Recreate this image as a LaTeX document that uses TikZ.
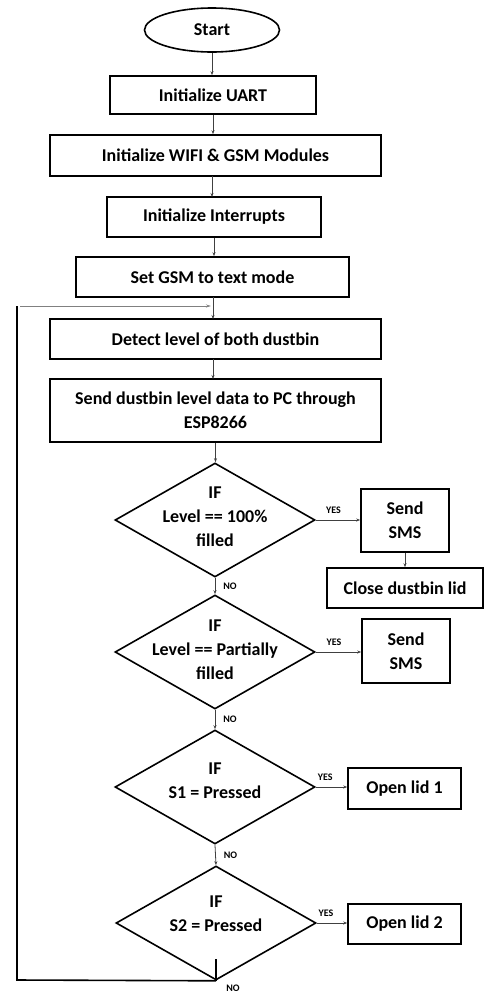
\documentclass[tikz,border=0pt]{standalone}
\usepackage{fontspec}
\setmainfont{Carlito}
\usetikzlibrary{shapes.geometric,arrows.meta}
\begin{document}
\begin{tikzpicture}[x=1pt,y=-1pt,
  box/.style={draw, line width=1.6pt, rectangle, inner sep=0pt, align=center, font=\fontsize{18}{24}\selectfont\bfseries},
  term/.style={draw, line width=1.6pt, ellipse, inner sep=0pt, minimum width=135pt, minimum height=44pt, font=\fontsize{18}{24}\selectfont\bfseries},
  dec/.style={draw, line width=1.6pt, diamond, inner sep=0pt, minimum width=200pt, minimum height=114pt},
  dtext/.style={align=center, inner sep=0pt, font=\fontsize{18}{24}\selectfont\bfseries},
  conn/.style={line width=0.8pt, draw=black!75, -{Stealth[length=4pt,width=3pt]}},
  loopline/.style={line width=1.6pt, line join=miter},
  lbl/.style={inner sep=0pt, font=\fontsize{10}{12}\selectfont\bfseries}]
\useasboundingbox (0,0) rectangle (484,994);

\node[term] (start) at (212,30) {Start};
\node[box, minimum width=206pt, minimum height=38pt] (uart) at (213,95) {Initialize UART};
\node[box, minimum width=331pt, minimum height=41pt] (wifi) at (215.5,155.5) {Initialize WIFI \& GSM Modules};
\node[box, minimum width=214pt, minimum height=40pt] (intr) at (214,217) {Initialize Interrupts};
\node[box, minimum width=273pt, minimum height=40pt] (gsm) at (212.5,277) {Set GSM to text mode};
\node[box, minimum width=331pt, minimum height=40pt] (detect) at (215.5,339) {Detect level of both dustbin};
\node[box, minimum width=331pt, minimum height=63pt] (send) at (215.5,410.5) {Send dustbin level data to PC through\\ESP8266};

\node[dec] (d1) at (215,520) {};
\node[dtext] (t1) at (215,517) {IF\\Level == 100\%\\filled};
\node[box, minimum width=88pt, minimum height=63pt] (sms1) at (405,520.5) {Send\\SMS};
\node[box, minimum width=156pt, minimum height=40pt] (close) at (405,588) {Close dustbin lid};

\node[dec] (d2) at (215,652) {};
\node[dtext] (t2) at (215,650) {IF\\Level == Partially\\filled};
\node[box, minimum width=88pt, minimum height=64pt] (sms2) at (406,651) {Send\\SMS};

\node[dec] (d3) at (215,787) {};
\node[dtext] (t3) at (215,781) {IF\\S1 = Pressed};
\node[box, minimum width=113pt, minimum height=41pt] (lid1) at (404.5,788.5) {Open lid 1};

\node[dec] (d4) at (216,923) {};
\node[dtext] (t4) at (216,914) {IF\\S2 = Pressed};
\node[box, minimum width=113pt, minimum height=40pt] (lid2) at (404.5,924) {Open lid 2};

% main flow
\draw[conn] (start.south) -- (start.south |- uart.north);
\draw[conn] (uart.south) -- (uart.south |- wifi.north);
\draw[conn] (212,176) -- (212,197);
\draw[conn] (intr.south) -- (intr.south |- gsm.north);
\draw[conn] (213,297) -- (213,319);
\draw[conn] (213,359) -- (213,379);
\draw[conn] (send.south) -- (send.south |- d1.north);

% decisions
\draw[conn] (d1.east) -- (sms1.west |- d1.east) node[lbl, pos=0.4, above=6pt] (y1) {YES};
\draw[conn] (sms1.south) -- (sms1.south |- close.north);
\draw[conn] (d1.south) -- (d2.north) node[lbl, midway, right=8pt] (n1) {NO};
\draw[conn] (d2.east) -- (sms2.west |- d2.east) node[lbl, pos=0.4, above=6pt] (y2) {YES};
\draw[conn] (d2.south) -- (d3.north) node[lbl, midway, right=8pt] (n2) {NO};
\draw[conn] (d3.east) -- (lid1.west |- d3.east) node[lbl, pos=0.3, above=6pt] (y3) {YES};
\draw[conn] (d3.south) -- (d4.north) node[lbl, midway, right=8pt] (n3) {NO};
\draw[conn] (d4.east) -- (lid2.west |- d4.east) node[lbl, pos=0.3, above=6pt] (y4) {YES};

% loop back
\coordinate (lb) at (17,980);
\coordinate (lt) at (17,306);
\coordinate (lin) at (211,306);
\coordinate (stub) at (216,959);
\draw[loopline] (d4.south) -- (lb) -- (lt);
\draw[loopline] (stub) -- (d4.south);
\draw[line width=0.8pt, draw=black!50, -{Stealth[length=5pt,width=3pt]}] (20,306) -- (lin);
\node[lbl] (n4) at (233,988) {NO};
\end{tikzpicture}
\end{document}
